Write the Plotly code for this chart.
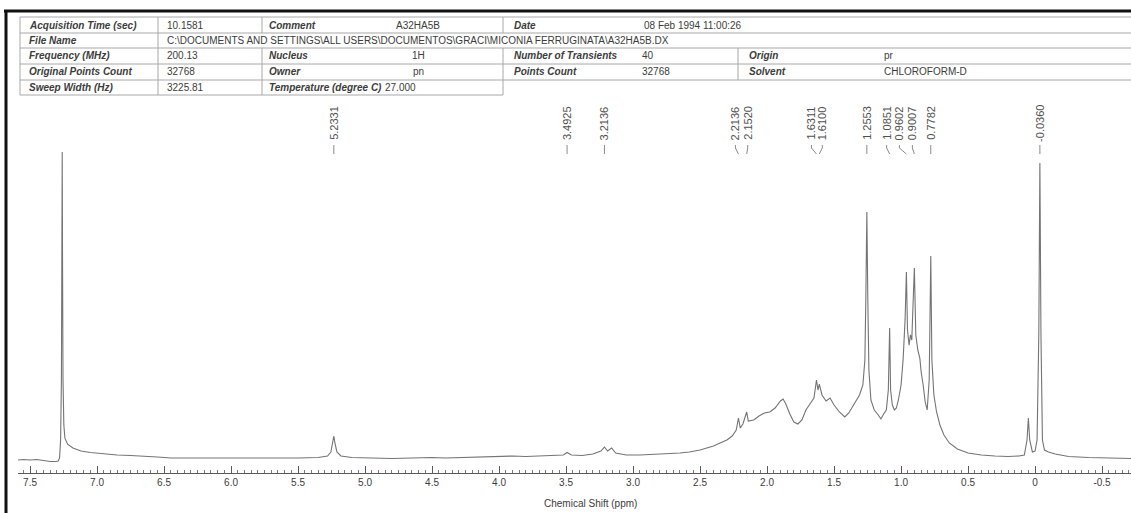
import plotly.graph_objects as go

# ---- 1H NMR trace (CDCl3, 200 MHz): chemical shift (ppm) and relative intensity ----
shift_ppm = [
    7.59, 7.55, 7.50, 7.45, 7.40, 7.35, 7.31, 7.29, 7.28, 7.272, 7.266, 7.262, 7.260,
    7.258, 7.254, 7.248, 7.24, 7.22, 7.18, 7.12, 7.05, 6.95, 6.85, 6.75, 6.65, 6.55,
    6.45, 6.30, 6.10, 5.90, 5.70, 5.50, 5.35, 5.28, 5.255, 5.240, 5.2331, 5.225, 5.21,
    5.18, 5.10, 4.95, 4.80, 4.65, 4.50, 4.40, 4.25, 4.10, 4.00, 3.90, 3.80, 3.70, 3.60,
    3.52, 3.4925, 3.46, 3.38, 3.30, 3.24, 3.2136, 3.19, 3.16, 3.13, 3.05, 2.95, 2.85,
    2.75, 2.65, 2.58, 2.50, 2.45, 2.40, 2.35, 2.30, 2.26, 2.23, 2.2136, 2.20, 2.18,
    2.1520, 2.14, 2.10, 2.06, 2.02, 1.98, 1.94, 1.90, 1.88, 1.86, 1.83, 1.80, 1.77,
    1.74, 1.71, 1.68, 1.65, 1.6311, 1.62, 1.6100, 1.59, 1.56, 1.53, 1.50, 1.46, 1.42,
    1.39, 1.35, 1.31, 1.285, 1.27, 1.263, 1.2553, 1.248, 1.24, 1.225, 1.20, 1.17, 1.15,
    1.13, 1.11, 1.095, 1.0851, 1.078, 1.065, 1.05, 1.035, 1.02, 1.00, 0.985, 0.97,
    0.9602, 0.952, 0.94, 0.93, 0.92, 0.9007, 0.89, 0.875, 0.86, 0.85, 0.835, 0.82,
    0.805, 0.79, 0.7782, 0.77, 0.755, 0.735, 0.71, 0.68, 0.64, 0.58, 0.50, 0.40, 0.30,
    0.20, 0.12, 0.08, 0.06, 0.05, 0.04, 0.02, 0.0, -0.015, -0.028, -0.036, -0.044,
    -0.055, -0.07, -0.10, -0.15, -0.25, -0.40, -0.55, -0.72,
]
intensity = [
    0.0, 0.17, 0.0, 0.17, -0.17, -0.5, -0.5, -0.33, 0.67, 6.7, 26.7, 70.0, 102.7,
    70.0, 26.7, 11.7, 7.3, 5.3, 4.0, 3.0, 2.5, 2.0, 1.67, 1.5, 1.33, 1.0,
    0.67, 0.67, 0.5, 0.67, 0.5, 0.67, 0.83, 1.33, 2.67, 6.0, 8.0, 5.67, 2.67,
    1.33, 0.83, 0.67, 0.5, 0.67, 0.83, 0.67, 0.83, 1.0, 1.17, 1.33, 1.17, 1.33, 1.5,
    1.67, 2.5, 1.67, 1.5, 2.0, 3.0, 4.33, 3.0, 4.0, 2.33, 1.67, 1.67, 1.83,
    2.0, 2.33, 2.67, 3.33, 4.0, 4.67, 5.67, 6.67, 8.0, 10.0, 14.0, 10.67, 12.0,
    16.0, 13.0, 13.33, 14.67, 15.67, 16.0, 17.33, 19.67, 20.33, 18.67, 15.33, 12.67, 12.0,
    13.33, 16.67, 18.67, 20.67, 26.67, 23.33, 25.33, 21.67, 19.67, 20.67, 18.33, 16.0, 14.33,
    15.67, 18.67, 21.67, 25.0, 33.3, 53.3, 82.67, 53.3, 30.0, 20.0, 16.67, 15.0, 13.67,
    15.33, 16.67, 23.33, 44.0, 23.33, 18.33, 16.67, 17.33, 20.0, 25.0, 33.3, 46.7,
    62.67, 43.3, 38.3, 41.7, 40.0, 64.0, 41.67, 36.67, 34.0, 29.33, 25.0, 19.33,
    16.67, 26.67, 68.0, 33.3, 21.67, 16.0, 11.67, 8.33, 5.67, 3.67, 2.33, 1.67, 1.33,
    1.17, 1.33, 1.67, 6.67, 14.0, 6.67, 2.67, 3.0, 6.67, 42.0, 99.0, 42.0,
    6.67, 3.33, 2.67, 2.0, 1.17, 0.83, 0.67, 0.5,
]

# ---- picked peaks ----
peak_ppm = [5.2331, 3.4925, 3.2136, 2.2136, 2.1520, 1.6311, 1.6100,
            1.2553, 1.0851, 0.9602, 0.9007, 0.7782, -0.0360]
peak_text = ["5.2331", "3.4925", "3.2136", "2.2136", "2.1520", "1.6311", "1.6100",
             "1.2553", "1.0851", "0.9602", "0.9007", "0.7782", "-0.0360"]
# horizontal nudge (px) so crowded labels do not overlap
peak_label_nudge = [0, 0, 0, -3, 1, -5, 3, 0, -3, -7, -2, 0, 0]

# ---- axis ticks ----
tick_ppm = [7.5, 7.0, 6.5, 6.0, 5.5, 5.0, 4.5, 4.0, 3.5, 3.0, 2.5, 2.0, 1.5, 1.0, 0.5, 0.0, -0.5]
tick_text = ["7.5", "7.0", "6.5", "6.0", "5.5", "5.0", "4.5", "4.0", "3.5", "3.0",
             "2.5", "2.0", "1.5", "1.0", "0.5", "0", "-0.5"]

# ---- acquisition parameters ----
left_labels = ["Acquisition Time (sec)", "File Name", "Frequency (MHz)",
               "Original Points Count", "Sweep Width (Hz)"]
left_values = ["10.1581",
               "C:\\DOCUMENTS AND SETTINGS\\ALL USERS\\DOCUMENTOS\\GRACI\\MICONIA FERRUGINATA\\A32HA5B.DX",
               "200.13", "32768", "3225.81"]
mid_labels = ["Comment", "", "Nucleus", "Owner", "Temperature (degree C)"]
mid_values = ["A32HA5B", "", "1H", "pn", "27.000"]
right_labels = ["Date", "", "Number of Transients", "Points Count"]
right_values = ["08 Feb 1994 11:00:26", "", "40", "32768"]
far_labels = ["", "", "Origin", "Solvent"]
far_values = ["", "", "pr", "CHLOROFORM-D"]

# ---- page geometry (pixels) ----
W, H = 1131, 513
ML, MR, MT, MB = 18, 0, 100, 40
PW, PH = W - ML - MR, H - MT - MB
PPM_LEFT, PPM_RIGHT = 7.590, -0.716
PX_PER_PPM = PW / (PPM_LEFT - PPM_RIGHT)


def px_x(x):
    return (x - ML) / PW


def px_y(y):
    return (H - MB - y) / PH


def ppm_px(p):
    return ML + (PPM_LEFT - p) * PX_PER_PPM


FONT = "Liberation Sans, Arial, sans-serif"
TXT = "#3c3c3c"
GRID = "#a8a8a8"

fig = go.Figure()
fig.add_trace(go.Scatter(
    x=shift_ppm, y=intensity, mode="lines",
    line=dict(color="#747474", width=1.1), hoverinfo="skip", showlegend=False,
))

shapes = []
annotations = []

# outer frame (top and left edges of the page)
shapes.append(dict(type="line", xref="paper", yref="paper", x0=px_x(4), x1=px_x(W + 5),
                   y0=px_y(11), y1=px_y(11), line=dict(color="#111", width=3)))
shapes.append(dict(type="line", xref="paper", yref="paper", x0=px_x(6), x1=px_x(6),
                   y0=px_y(10), y1=px_y(H + 5), line=dict(color="#111", width=3)))

# parameter table grid
row_edges = [17, 33, 48, 64, 80, 95]
TL, TV, TM, TR = 20, 158, 262, 503
for i, y in enumerate(row_edges):
    x_end = W + 5 if i <= 4 else TR
    shapes.append(dict(type="line", xref="paper", yref="paper", x0=px_x(TL), x1=px_x(x_end),
                       y0=px_y(y), y1=px_y(y), line=dict(color=GRID, width=1)))
for x, rows in [(TL, range(5)), (TV, range(5)), (TM, [0, 2, 3, 4]), (TR, [0, 2, 3, 4]),
                (738, [2, 3])]:
    for r in rows:
        shapes.append(dict(type="line", xref="paper", yref="paper", x0=px_x(x), x1=px_x(x),
                           y0=px_y(row_edges[r]), y1=px_y(row_edges[r + 1]),
                           line=dict(color=GRID, width=1)))


def cell(text, x, row, italic=False, anchor="left"):
    if not text:
        return
    yc = (row_edges[row] + row_edges[row + 1]) / 2
    annotations.append(dict(
        xref="paper", yref="paper", x=px_x(x), y=px_y(yc), text=text, showarrow=False,
        xanchor=anchor, yanchor="middle",
        font=dict(family=FONT, size=10, color=TXT, style="italic" if italic else "normal",
                  weight=600 if italic else 400),
    ))


for r in range(5):
    cell(left_labels[r], 27, r, italic=True)
    cell(left_values[r], 165, r)
    cell(mid_labels[r], 267, r, italic=True)
    if r == 4:
        cell(mid_values[r], 383, r)
    else:
        cell(mid_values[r], 418, r, anchor="center")
for r in range(4):
    cell(right_labels[r], 512, r, italic=True)
    cell(right_values[r], 642 if r == 0 else 640, r)
    cell(far_labels[r], 747, r, italic=True)
    cell(far_values[r], 882, r)

# peak labels with leader lines
LABEL_CY, LEAD_TOP, LEAD_MID, LEAD_BOT = 123, 145, 148, 154
for p, t, dx in zip(peak_ppm, peak_text, peak_label_nudge):
    xp = ppm_px(p)
    xl = xp + dx
    annotations.append(dict(
        xref="paper", yref="paper", x=px_x(xl), y=px_y(LABEL_CY), text=t, showarrow=False,
        textangle=-90, xanchor="center", yanchor="middle",
        font=dict(family=FONT, size=11, color="#505050"),
    ))
    shapes.append(dict(type="path", xref="paper", yref="paper",
                       path=f"M {px_x(xl)},{px_y(LEAD_TOP)} L {px_x(xl)},{px_y(LEAD_MID)} "
                            f"L {px_x(xp)},{px_y(LEAD_BOT)}",
                       line=dict(color="#8a8a8a", width=1)))

# axis title
annotations.append(dict(
    xref="x", yref="paper", x=3.32, y=px_y(503), text="Chemical Shift (ppm)", showarrow=False,
    xanchor="center", yanchor="middle", font=dict(family=FONT, size=10, color=TXT),
))

fig.update_layout(
    width=W, height=H,
    margin=dict(l=ML, r=MR, t=MT, b=MB, pad=0),
    paper_bgcolor="white", plot_bgcolor="white",
    shapes=shapes, annotations=annotations,
    xaxis=dict(
        range=[PPM_LEFT, PPM_RIGHT], showgrid=False, zeroline=False,
        showline=True, linecolor="#5a5a5a", linewidth=1,
        tickmode="array", tickvals=tick_ppm, ticktext=tick_text,
        ticks="inside", ticklen=7, tickcolor="#5a5a5a", tickwidth=1,
        minor=dict(ticks="inside", ticklen=3, tickcolor="#7a7a7a", dtick=0.05, tick0=0, showgrid=False),
        tickfont=dict(family=FONT, size=10, color=TXT),
    ),
    yaxis=dict(range=[-4.333, 120], visible=False, fixedrange=True),
)

fig.write_html("out.html")
